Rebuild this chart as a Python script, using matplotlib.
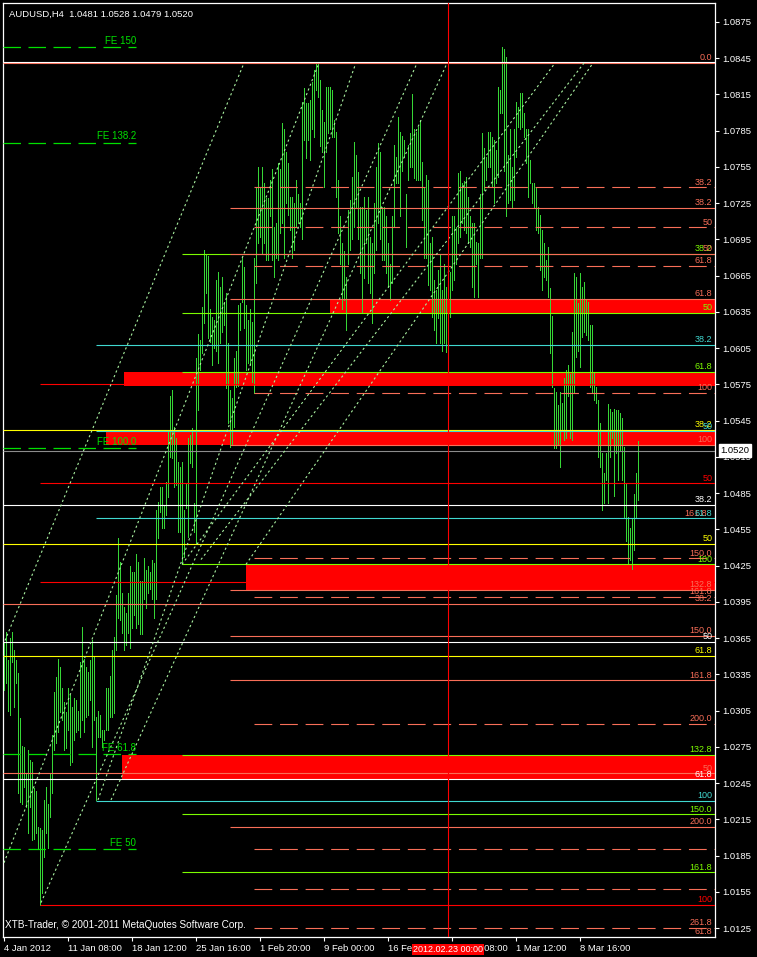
import matplotlib
matplotlib.use("Agg")
import matplotlib.pyplot as plt
import numpy as np
from matplotlib.patches import Rectangle

# ---------------- data ----------------
HIGH_PIPS = [
    10361,10370,10347,10365,10370,10355,10347,10336,10299,10276,
    10275,10253,10272,10264,10262,10241,10238,10209,10208,10206,
    10231,10242,10228,10253,10285,10320,10333,10348,10341,10324,
    10312,10304,10324,10318,10308,10315,10314,10305,10345,10374,
    10348,10341,10337,10347,10363,10349,10300,10305,10301,10289,
    10289,10324,10324,10334,10355,10366,10401,10448,10428,10402,
    10391,10386,10402,10425,10420,10420,10435,10428,10412,10412,
    10431,10421,10425,10420,10430,10427,10471,10478,10490,10490,
    10474,10494,10536,10565,10570,10540,10531,10511,10507,10511,
    10471,10493,10531,10533,10539,10477,10597,10617,10612,10639,
    10686,10682,10681,10637,10631,10628,10661,10668,10656,10664,
    10643,10651,10609,10570,10564,10597,10603,10641,10642,10680,
    10672,10641,10628,10637,10627,10680,10738,10755,10738,10755,
    10742,10729,10729,10744,10753,10705,10709,10758,10753,10791,
    10786,10767,10758,10730,10730,10725,10744,10733,10725,10809,
    10820,10808,10808,10810,10825,10835,10841,10841,10827,10802,
    10792,10821,10821,10821,10819,10794,10784,10744,10714,10692,
    10685,10664,10719,10728,10747,10776,10765,10751,10722,10722,
    10730,10719,10730,10697,10692,10725,10755,10775,10767,10722,
    10722,10714,10692,10675,10714,10773,10763,10796,10784,10781,
    10777,10733,10773,10783,10815,10786,10784,10788,10794,10759,
    10738,10748,10744,10692,10697,10661,10653,10670,10682,10653,
    10675,10656,10670,10668,10714,10714,10705,10750,10752,10742,
    10743,10747,10730,10714,10709,10709,10693,10692,10733,10783,
    10771,10763,10784,10784,10780,10777,10769,10821,10819,10854,
    10853,10846,10765,10786,10755,10786,10809,10805,10816,10816,
    10800,10786,10786,10761,10742,10742,10738,10722,10715,10703,
    10692,10678,10689,10655,10632,10572,10569,10558,10569,10560,
    10580,10587,10591,10584,10618,10667,10664,10642,10667,10656,
    10660,10645,10643,10624,10624,10585,10573,10562,10543,10518,
    10502,10518,10559,10555,10552,10555,10554,10554,10551,10547,
    10523,10493,10465,10456,10464,10484,10502,10528,
]
LOW_PIPS = [
    10322,10328,10305,10301,10345,10308,10328,10237,10229,10228,
    10242,10225,10204,10225,10198,10199,10204,10190,10144,10154,
    10184,10204,10191,10217,10237,10272,10278,10287,10304,10297,
    10272,10274,10289,10260,10262,10281,10287,10289,10283,10297,
    10287,10300,10301,10314,10275,10297,10231,10283,10283,10275,
    10281,10289,10289,10300,10300,10303,10355,10382,10380,10369,
    10355,10359,10369,10357,10373,10384,10373,10377,10368,10368,
    10397,10390,10402,10406,10397,10382,10397,10448,10469,10456,
    10456,10467,10482,10515,10514,10490,10492,10453,10453,10426,
    10432,10473,10449,10510,10507,10453,10444,10554,10587,10601,
    10626,10651,10613,10610,10591,10605,10603,10593,10609,10618,
    10624,10572,10543,10523,10525,10540,10573,10574,10620,10643,
    10622,10587,10593,10591,10577,10568,10659,10692,10697,10684,
    10692,10678,10678,10714,10678,10664,10680,10678,10700,10709,
    10680,10725,10715,10703,10680,10686,10705,10709,10705,10695,
    10777,10762,10777,10761,10786,10780,10819,10813,10772,10767,
    10738,10767,10783,10786,10780,10780,10730,10700,10675,10637,
    10645,10620,10675,10686,10695,10705,10722,10695,10667,10634,
    10663,10692,10659,10651,10626,10667,10686,10709,10695,10678,
    10678,10667,10656,10645,10659,10705,10742,10742,10714,10752,
    10763,10689,10744,10755,10755,10746,10744,10744,10744,10711,
    10680,10680,10657,10653,10631,10620,10609,10630,10609,10603,
    10609,10602,10628,10631,10653,10661,10675,10692,10697,10709,
    10703,10700,10692,10689,10656,10647,10675,10647,10680,10680,
    10736,10744,10755,10755,10738,10725,10742,10747,10800,10800,
    10752,10714,10725,10728,10722,10728,10763,10788,10786,10788,
    10780,10758,10730,10742,10725,10722,10703,10700,10670,10653,
    10664,10661,10647,10601,10573,10522,10522,10525,10507,10537,
    10529,10531,10565,10531,10529,10569,10598,10603,10589,10614,
    10618,10616,10612,10573,10568,10562,10560,10515,10507,10471,
    10477,10496,10477,10515,10531,10483,10518,10496,10520,10496,
    10464,10445,10426,10430,10422,10438,10465,10479,
]

# horizontal fibo levels: price, first bar, style key, label
LEVEL_PRICE = [1.0841, 1.0842, 1.0738, 1.0721, 1.0705, 1.0683, 1.0683, 1.0673, 1.0646,
               1.0634, 1.0608, 1.0585, 1.0575, 1.0568, 1.0537, 1.0536, 1.0525, 1.0520,
               1.0493, 1.0475, 1.0464, 1.0443, 1.0431, 1.0426, 1.0411, 1.0405, 1.0399,
               1.0393, 1.0367, 1.0362, 1.0350, 1.0330, 1.0294, 1.0268, 1.0253, 1.0248,
               1.0230, 1.0219, 1.0209, 1.0190, 1.0171, 1.0157, 1.0144, 1.0125]
LEVEL_START = [0, 0, 125, 113, 125, 89, 113, 125, 113,
               89, 46, 89, 18, 125, 0, 46, 113, 0,
               18, 0, 46, 0, 125, 89, 18, 113, 125,
               0, 113, 0, 0, 113, 125, 89, 0, 0,
               46, 89, 113, 125, 89, 125, 18, 125]
LEVEL_KIND = ["salmon", "white", "salmon_d", "salmon", "salmon_d", "green", "salmon", "salmon_d", "salmon",
              "green", "cyan", "green", "red", "salmon_d", "yellow", "cyan", "salmon", "grey",
              "red", "white", "cyan", "yellow", "salmon_d", "green", "red", "salmon", "salmon_d",
              "salmon", "salmon", "white", "yellow", "salmon", "salmon_d", "green", "salmon", "white",
              "cyan", "green", "salmon", "salmon_d", "green", "salmon_d", "red", "salmon_d"]
LEVEL_LABEL = ["0.0", "", "38.2", "38.2", "50", "38.2", "50", "61.8", "61.8",
               "50", "38.2", "61.8", "", "100", "38.2", "50", "100", "",
               "50", "38.2", "61.8", "50", "150.0", "100", "", "132.8", "161.8",
               "38.2", "150.0", "50", "61.8", "161.8", "200.0", "132.8", "50", "61.8",
               "100", "150.0", "200.0", "", "161.8", "", "100", "261.8"]

# red zones: first bar, low, high
ZONE_START = [163, 60, 51, 121, 59]
ZONE_LOW = [1.0634, 1.0574, 1.0525, 1.0405, 1.0248]
ZONE_HIGH = [1.0646, 1.0585, 1.0536, 1.0426, 1.0268]

# Fibonacci expansion levels (left side)
FE_PRICE = [1.0854, 1.0775, 1.0522, 1.0269, 1.0190]
FE_LABEL = ["FE 150", "FE 138.2", "FE 100.0", "FE 61.8", "FE 50"]

# channel trend lines: (bar0, price0, bar1, price1)
CH_BAR0 = [0.5, 0.0, 18.5, 47.0, 53.5, 89.0, 98.5, 121.0]
CH_P0 = [1.0363, 1.0179, 1.0146, 1.0231, 1.0231, 1.0426, 1.0430, 1.0426]
CH_BAR1 = [119.5, 157.0, 206.0, 175.5, 221.0, 275.5, 290.0, 294.5]
CH_P1 = [1.0839, 1.0839, 1.0839, 1.0839, 1.0839, 1.0841, 1.0841, 1.0841]

XTICK_BARS = [0, 32, 64, 96, 128, 160, 192, 224, 256, 288]
XTICK_LABELS = ["4 Jan 2012", "11 Jan 08:00", "18 Jan 12:00", "25 Jan 16:00", "1 Feb 20:00",
                "9 Feb 00:00", "16 Feb 04:00", "23 Feb 08:00", "1 Mar 12:00", "8 Mar 16:00"]
YTICKS = [1.0125, 1.0155, 1.0185, 1.0215, 1.0245, 1.0275, 1.0305, 1.0335, 1.0365, 1.0395,
          1.0425, 1.0455, 1.0485, 1.0515, 1.0545, 1.0575, 1.0605, 1.0635, 1.0665, 1.0695,
          1.0725, 1.0755, 1.0785, 1.0815, 1.0845, 1.0875]
VLINE_BAR = 222
VLINE_TEXT = "2012.02.23 00:00"
TITLE = "AUDUSD,H4  1.0481 1.0528 1.0479 1.0520"
BID = 1.0520
COPYRIGHT = "XTB-Trader, © 2001-2011 MetaQuotes Software Corp."

# ---------------- styles ----------------
COL = {"salmon": "#F86E58", "salmon_d": "#F86E58", "white": "#FFFFFF", "green": "#7CFC00",
       "cyan": "#40D8D0", "red": "#FF0000", "yellow": "#FFFF00", "grey": "#8C8C8C"}
FONT = "Liberation Sans"
plt.rcParams["font.family"] = [FONT, "DejaVu Sans"]

W, H = 757, 957
fig = plt.figure(figsize=(W / 100, H / 100), dpi=100, facecolor="black")
ax = fig.add_axes([3 / W, 20 / H, 712 / W, 934 / H], facecolor="black")

high = np.array(HIGH_PIPS) / 10000.0
low = np.array(LOW_PIPS) / 10000.0
bars = np.arange(len(high))

XMIN, XMAX = -0.5, 355.5
ax.set_xlim(XMIN, XMAX)
ax.set_ylim(1.011755, 1.08907)

# zones
for s, lo, hi in zip(ZONE_START, ZONE_LOW, ZONE_HIGH):
    ax.add_patch(Rectangle((s, lo), XMAX - s, hi - lo, facecolor="#FF0000",
                           edgecolor="none", zorder=1))

# candles
ax.vlines(bars, low, high, color="#36D636", lw=0.6, zorder=3, antialiased=False)

# levels
dash = (0, (16, 7))
for p, s, k, lab in zip(LEVEL_PRICE, LEVEL_START, LEVEL_KIND, LEVEL_LABEL):
    ls = dash if k.endswith("_d") else "-"
    x0 = XMIN if s == 0 else s
    ax.plot([x0, XMAX], [p, p], color=COL[k], lw=0.8, ls=ls, zorder=4, solid_capstyle="butt")
    if lab:
        ax.annotate(lab, xy=(1, p), xycoords=("axes fraction", "data"), xytext=(-2, 0.6),
                    textcoords="offset points", ha="right", va="bottom", fontsize=6.5,
                    color=COL[k], zorder=6)

# extra overlapping labels
ax.annotate("161.8", xy=(1, 1.0464), xycoords=("axes fraction", "data"), xytext=(-6, 0.6),
            textcoords="offset points", ha="right", va="bottom", fontsize=6.5, color=COL["salmon"], zorder=5)
ax.annotate("61.8", xy=(1, 1.0118), xycoords=("axes fraction", "data"), xytext=(-2, 0.6),
            textcoords="offset points", ha="right", va="bottom", fontsize=6.5, color=COL["salmon"],
            zorder=5, annotation_clip=False, clip_on=True)

# FE levels
for p, lab in zip(FE_PRICE, FE_LABEL):
    ax.plot([XMIN, 66], [p, p], color="#00E000", lw=0.9, ls=(0, (14, 6)), zorder=4)
    ax.text(66, p + 0.00012, lab, color="#00E000", fontsize=7, ha="right", va="bottom", zorder=6)

# channel lines
for b0, p0, b1, p1 in zip(CH_BAR0, CH_P0, CH_BAR1, CH_P1):
    ax.plot([b0, b1], [p0, p1], color="#A8F0A0", lw=0.8, ls=(0, (2, 2.5)), zorder=5)

# vertical marker
ax.axvline(VLINE_BAR, color="#FF0000", lw=0.8, zorder=5)
ax.annotate(VLINE_TEXT, xy=(VLINE_BAR, 0), xycoords=("data", "axes fraction"), xytext=(0, -9),
            textcoords="offset points", ha="center", va="center", fontsize=6.5, color="white",
            bbox=dict(boxstyle="square,pad=0.15", fc="#FF0000", ec="none"), zorder=10,
            annotation_clip=False)

# texts
ax.text(0.008, 0.993, TITLE, transform=ax.transAxes, color="white", fontsize=6.8, va="top", ha="left")
ax.text(0.003, 0.007, COPYRIGHT, transform=ax.transAxes, color="white", fontsize=7.2, va="bottom", ha="left")

# axes styling
for sp in ax.spines.values():
    sp.set_color("white")
    sp.set_linewidth(0.9)
ax.yaxis.tick_right()
ax.set_yticks(YTICKS)
ax.set_yticklabels([f"{v:.4f}" for v in YTICKS])
ax.set_xticks(XTICK_BARS)
ax.set_xticklabels(XTICK_LABELS)
ax.tick_params(axis="both", colors="white", labelsize=6.8, length=3, width=0.8, direction="out", pad=2)
for lab in ax.get_xticklabels():
    lab.set_ha("left")

ax.annotate(f"{BID:.4f}", xy=(1, BID), xycoords=("axes fraction", "data"), xytext=(4, 0),
            textcoords="offset points", ha="left", va="center", fontsize=6.8, color="black",
            bbox=dict(boxstyle="square,pad=0.2", fc="white", ec="white"), annotation_clip=False, zorder=10)

fig.savefig("out.png", dpi=100, facecolor="black")
